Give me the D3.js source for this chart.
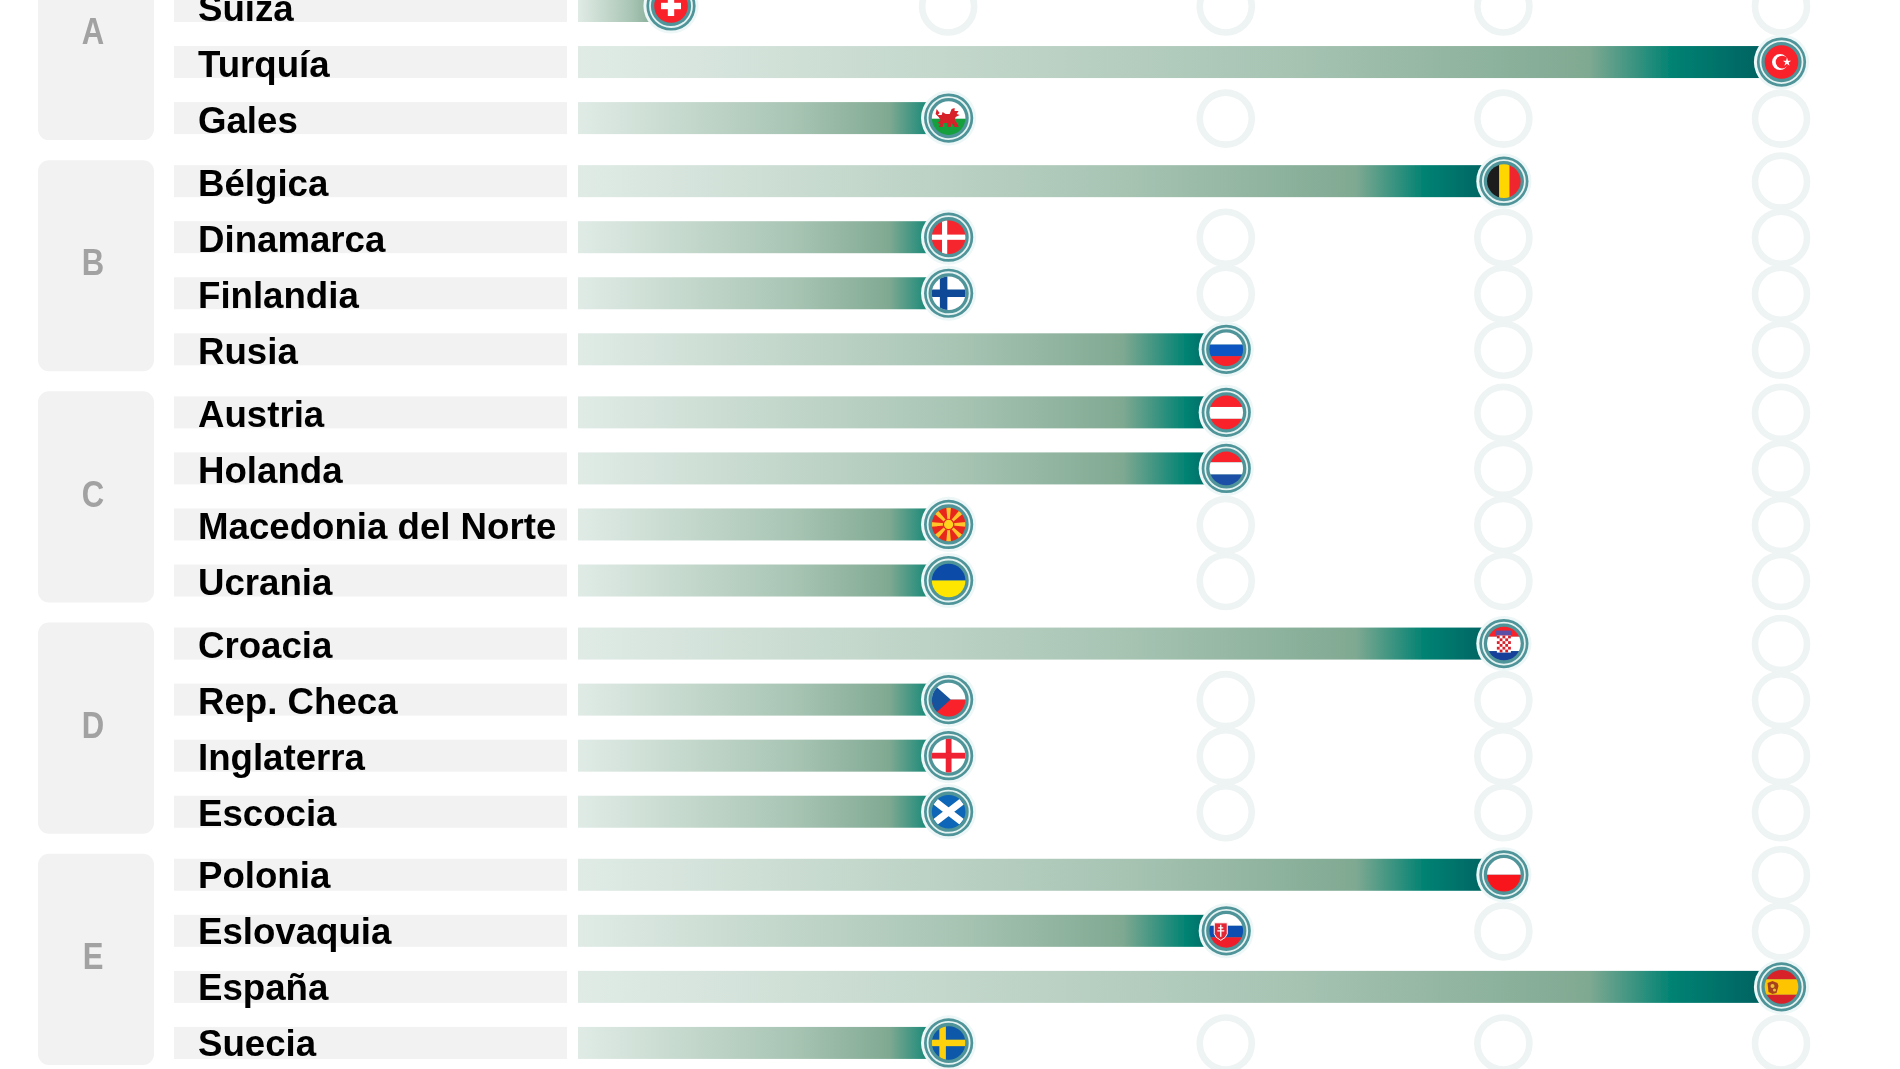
<!DOCTYPE html>
<html>
<head>
<meta charset="utf-8">
<script src="https://cdnjs.cloudflare.com/ajax/libs/d3/7.8.5/d3.min.js"></script>
<style>
  html, body { margin: 0; padding: 0; background: #fff; }
  svg { display: block; }
</style>
</head>
<body>
<svg id="chart"></svg>
<script>
// datos
const groups = ['A', 'B', 'C', 'D', 'E'];
const teams = ['Suiza', 'Turquía', 'Gales',
  'Bélgica', 'Dinamarca', 'Finlandia', 'Rusia',
  'Austria', 'Holanda', 'Macedonia del Norte', 'Ucrania',
  'Croacia', 'Rep. Checa', 'Inglaterra', 'Escocia',
  'Polonia', 'Eslovaquia', 'España', 'Suecia'];
const teamGroup = [0, 0, 0, 1, 1, 1, 1, 2, 2, 2, 2, 3, 3, 3, 3, 4, 4, 4, 4];
const rounds = [1, 2, 3, 4, 5];
const reached = [1, 5, 2, 4, 2, 2, 3, 3, 3, 2, 2, 4, 2, 2, 2, 4, 3, 5, 2];
const flagKeys = ['ch', 'tr', 'wal', 'be', 'dk', 'fi', 'ru', 'at', 'nl', 'mk', 'ua',
  'hr', 'cz', 'eng', 'sco', 'pl', 'sk', 'es', 'se'];

const width = 1900, height = 1069;
const barLeft = 578, labelLeft = 174, labelRight = 567, barH = 32;

const x = d3.scaleLinear().domain([1, 5]).range([670.5, 1781]);
// cada grupo deja un hueco de 1/8 de fila
const y = d3.scaleLinear().domain([0, 1]).range([6, 62.05]);
const rowPos = (i) => i + teamGroup[i] * 0.125;
const yRow = (i) => y(rowPos(i));
// la linea base del texto se desplaza un poco hacia abajo de la pagina
const textDrop = d3.scaleLinear().domain([0, teams.length - 1]).range([15.2, 13.4]);

const svg = d3.select('#chart').attr('width', width).attr('height', height);
const defs = svg.append('defs');

defs.append('filter').attr('id', 'soft')
  .attr('filterUnits', 'userSpaceOnUse')
  .attr('x', 0).attr('y', 0).attr('width', width).attr('height', height)
  .append('feGaussianBlur').attr('stdDeviation', 0.55);

// en las barras cortas el verde oscuro tarda mas en llegar
const tealStop = d3.scaleOrdinal().domain(rounds).range([0.96, 0.97, 0.94, 0.915, 0.91]);
rounds.forEach(r => {
  const grad = defs.append('linearGradient').attr('id', `barGrad${r}`);
  [[0, '#e0ebe6'], [0.3, '#c4d8cc'], [0.6, '#a6c3b2'], [0.84, '#80a992'], [tealStop(r), '#008272'], [1, '#005b5e']]
    .forEach(s => grad.append('stop').attr('offset', s[0]).attr('stop-color', s[1]));
});

defs.append('clipPath').attr('id', 'flagClip').append('circle').attr('r', 16.8);

const root = svg.append('g').attr('filter', 'url(#soft)');

// paneles de grupo
const panels = groups.map((g, gi) => {
  const idx = d3.range(teams.length).filter(i => teamGroup[i] === gi);
  return { g, top: yRow(idx[0]) - 21, bottom: yRow(idx[idx.length - 1]) + 22 };
});
// el panel A queda cortado por arriba
panels[0].top = panels[0].bottom - 211;

root.append('g').selectAll('rect').data(panels).join('rect')
  .attr('x', 38).attr('width', 116)
  .attr('y', d => d.top).attr('height', d => d.bottom - d.top)
  .attr('rx', 11).attr('fill', '#f2f2f2');

root.append('g').selectAll('text').data(panels).join('text')
  .attr('transform', d => `translate(93,${(d.top + d.bottom) / 2 + 9.6}) scale(0.84,1)`)
  .attr('text-anchor', 'middle')
  .attr('font-family', '"Liberation Sans", Arial, sans-serif')
  .attr('font-weight', 700).attr('font-size', 37).attr('fill', '#a2a2a2')
  .text(d => d.g);

// filas de etiqueta
root.append('g').selectAll('rect').data(teams).join('rect')
  .attr('x', labelLeft).attr('width', labelRight - labelLeft)
  .attr('y', (d, i) => yRow(i) - barH / 2).attr('height', barH)
  .attr('fill', '#f2f2f2');

// aros vacios de las rondas no alcanzadas
const rings = [];
teams.forEach((t, i) => rounds.filter(r => r > reached[i]).forEach(r => rings.push({ i, r })));
root.append('g').selectAll('circle').data(rings).join('circle')
  .attr('cx', d => x(d.r)).attr('cy', d => yRow(d.i) + 0.5).attr('r', 26)
  .attr('fill', 'none').attr('stroke', '#eef4f3').attr('stroke-width', 6.6);

// barras
root.append('g').selectAll('rect').data(reached).join('rect')
  .attr('x', barLeft).attr('width', d => x(d) - barLeft)
  .attr('y', (d, i) => yRow(i) - barH / 2).attr('height', barH)
  .attr('fill', d => `url(#barGrad${d})`);

root.append('g').selectAll('text').data(teams).join('text')
  .attr('transform', (d, i) => `translate(198,${yRow(i) + textDrop(i)}) scale(1.018,1)`)
  .attr('font-family', '"Liberation Sans", Arial, sans-serif')
  .attr('font-weight', 700).attr('font-size', 36).attr('fill', '#000')
  .text(d => d);

// banderas, dibujadas alrededor del centro del marcador
const RED = '#f9202b', BLUE = '#0a55b0', WHITE = '#fff', YEL = '#ffd600';
function bars(g, horiz, colors, stops) {
  colors.forEach((c, k) => {
    const a = -18 + 36 * stops[k], b = -18 + 36 * stops[k + 1];
    g.append('rect').attr('fill', c)
      .attr('x', horiz ? -18 : a).attr('width', horiz ? 36 : b - a)
      .attr('y', horiz ? a : -18).attr('height', horiz ? b - a : 36);
  });
}
function bg(g, c) { g.append('rect').attr('x', -18).attr('y', -18).attr('width', 36).attr('height', 36).attr('fill', c); }
function cross(g, c, w, cx) {
  g.append('rect').attr('x', cx - w / 2).attr('y', -18).attr('width', w).attr('height', 36).attr('fill', c);
  g.append('rect').attr('x', -18).attr('y', -w / 2).attr('width', 36).attr('height', w).attr('fill', c);
}
const flags = {
  ch: g => {
    bg(g, RED);
    g.append('rect').attr('x', -3.2).attr('y', -10).attr('width', 6.4).attr('height', 20).attr('fill', WHITE);
    g.append('rect').attr('x', -10).attr('y', -3.2).attr('width', 20).attr('height', 6.4).attr('fill', WHITE);
  },
  tr: g => {
    bg(g, RED);
    g.append('circle').attr('cx', -1.5).attr('r', 8).attr('fill', WHITE);
    g.append('circle').attr('cx', 0.6).attr('r', 6.4).attr('fill', RED);
    g.append('path').attr('fill', WHITE).attr('transform', 'translate(5.5,0)')
      .attr('d', d3.symbol(d3.symbolStar, 22)());
  },
  wal: g => {
    bars(g, true, [WHITE, '#12a03c'], [0, 0.52, 1]);
    g.append('path').attr('fill', '#d8202c')
      .attr('d', 'M-12,-9 L-9,-5 L-11,-3 L-7,-3 L-6,-6 L-3,-4 L1,-4 L3,-9 L6,-10 L6,-7 L10,-7 L8,-4 L11,-3 L7,-1 L6,2 L9,6 L10,9 L6,9 L3,5 L2,9 L-1,9 L-1,5 L-5,5 L-6,9 L-10,9 L-8,6 L-11,5 L-8,2 L-10,-1 L-13,-4 Z');
  },
  be: g => bars(g, false, ['#1a1a1a', YEL, '#f0272d'], [0, 0.37, 0.66, 1]),
  dk: g => { bg(g, '#f5252d'); cross(g, WHITE, 5.2, -4); },
  fi: g => { bg(g, WHITE); cross(g, '#0a4a96', 7.5, -5); },
  ru: g => bars(g, true, [WHITE, '#0a55c0', RED], [0, 0.37, 0.69, 1]),
  at: g => bars(g, true, [RED, WHITE, RED], [0, 0.35, 0.68, 1]),
  nl: g => bars(g, true, [RED, WHITE, '#1c4fa6'], [0, 0.33, 0.67, 1]),
  mk: g => {
    bg(g, '#e8281f');
    d3.range(8).forEach(k => {
      g.append('path').attr('fill', '#ffc52a')
        .attr('transform', `rotate(${k * 45})`).attr('d', 'M-1.1,-4 L-2.4,-18 L2.4,-18 L1.1,-4 Z');
    });
    g.append('circle').attr('r', 5.2).attr('fill', '#ffd21e').attr('stroke', '#e8281f').attr('stroke-width', 1.2);
  },
  ua: g => bars(g, true, ['#0a4ca8', '#ffe600'], [0, 0.5, 1]),
  hr: g => {
    bars(g, true, [RED, WHITE, '#14409a'], [0, 0.31, 0.71, 1]);
    g.append('rect').attr('x', -8).attr('y', -13).attr('width', 16).attr('height', 5).attr('fill', '#5c4fa6');
    const sq = d3.range(6).flatMap(r => d3.range(5).map(c => ({ r, c }))).filter(d => (d.r + d.c) % 2 === 0);
    g.append('rect').attr('x', -7).attr('y', -8).attr('width', 14).attr('height', 17).attr('fill', WHITE);
    g.selectAll('rect.sq').data(sq).join('rect').attr('class', 'sq')
      .attr('x', d => -7 + d.c * 2.8).attr('y', d => -8 + d.r * 2.8)
      .attr('width', 2.8).attr('height', 2.8).attr('fill', '#d8202c');
  },
  cz: g => {
    bars(g, true, [WHITE, RED], [0, 0.5, 1]);
    g.append('path').attr('fill', '#14539f').attr('d', 'M-18,-18 L2,0 L-18,18 Z');
  },
  eng: g => { bg(g, WHITE); cross(g, '#ee2030', 5.8, 0); },
  sco: g => {
    bg(g, '#0d66b8');
    g.append('path').attr('stroke', WHITE).attr('stroke-width', 7).attr('d', 'M-13,-10 L13,10 M-13,10 L13,-10');
  },
  pl: g => bars(g, true, [WHITE, '#f8161f'], [0, 0.5, 1]),
  sk: g => {
    bars(g, true, [WHITE, '#0a4fb0', '#ef1f2b'], [0, 0.36, 0.68, 1]);
    g.append('path').attr('fill', '#e32636').attr('stroke', WHITE).attr('stroke-width', 1)
      .attr('d', 'M-12,-8 L1,-8 L1,3 Q0,7 -5.5,9.5 Q-11,7 -12,3 Z');
    g.append('path').attr('stroke', WHITE).attr('stroke-width', 1.4).attr('fill', 'none')
      .attr('d', 'M-5.5,-6 L-5.5,6 M-8,-3 L-3,-3 M-9,0 L-2,0');
  },
  es: g => {
    bars(g, true, ['#d8202c', '#ffc400', '#d8202c'], [0, 0.29, 0.72, 1]);
    g.append('path').attr('fill', '#a8431c')
      .attr('d', 'M-14,-4 L-9,-6 L-4,-4 L-3,-1 L-5,6 L-9,7 L-13,5 Z');
    g.append('circle').attr('cx', -9).attr('cy', -1).attr('r', 2).attr('fill', '#e8c233');
    g.append('circle').attr('cx', -7).attr('cy', 3).attr('r', 1.5).attr('fill', '#e8c233');
  },
  se: g => { bg(g, '#0a58a8'); cross(g, '#fdd20a', 6.5, -6); }
};

// marcadores
const marker = root.append('g').selectAll('g').data(reached).join('g')
  .attr('transform', (d, i) => `translate(${x(d) + 0.5},${yRow(i)})`);
marker.append('circle').attr('r', 27.6).attr('fill', '#eef7f7');
marker.append('circle').attr('r', 24.6).attr('fill', '#4f9499');
marker.append('circle').attr('r', 21).attr('fill', 'none').attr('stroke', '#e4f2f1').attr('stroke-width', 1.8);
const flag = marker.append('g').attr('clip-path', 'url(#flagClip)');
flag.each(function (d, i) { flags[flagKeys[i]](d3.select(this)); });
</script>
</body>
</html>
